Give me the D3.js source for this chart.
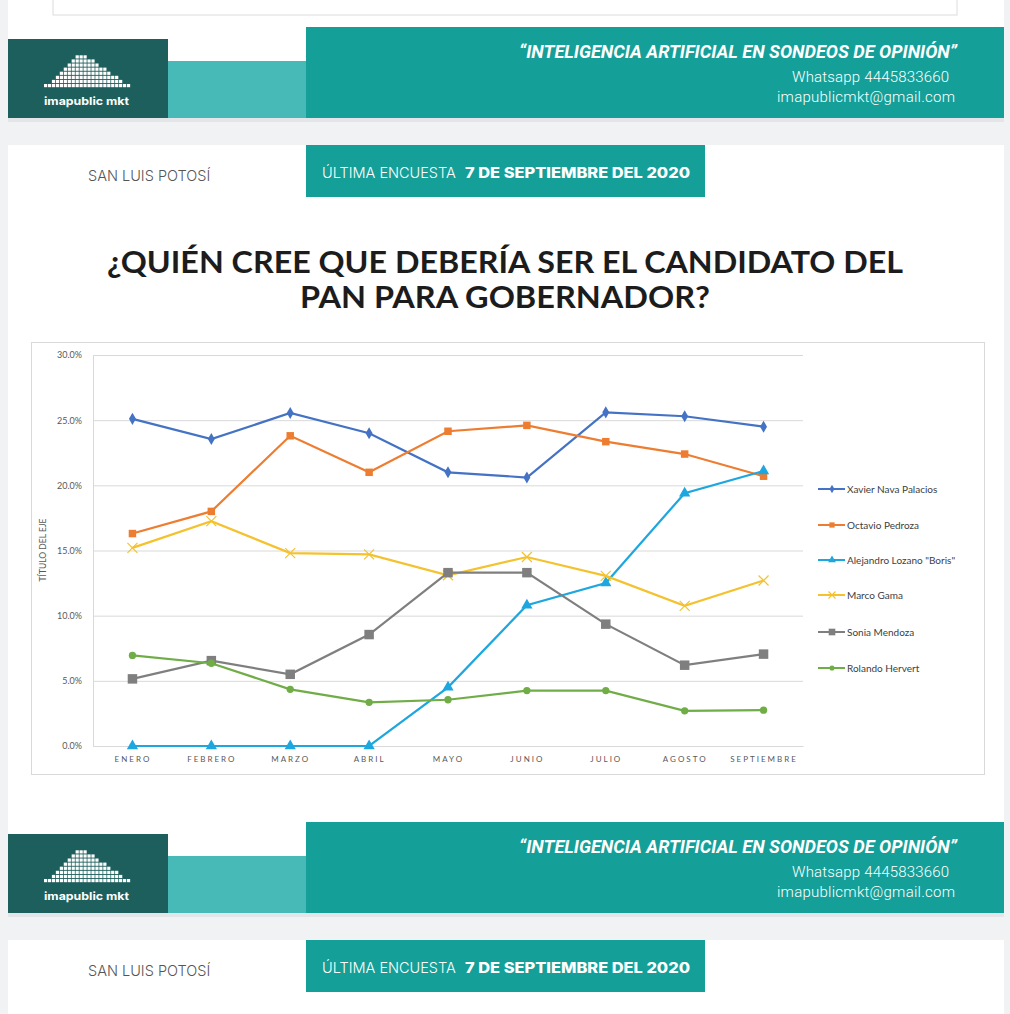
<!DOCTYPE html>
<html><head><meta charset="utf-8">
<script src="https://cdn.jsdelivr.net/npm/d3@7/dist/d3.min.js"></script>
<style>body{margin:0;background:#f1f2f4;} svg{display:block;}</style>
</head><body>
<svg id="c" width="1010" height="1014"></svg>
<script>
const months = ["ENERO","FEBRERO","MARZO","ABRIL","MAYO","JUNIO","JULIO","AGOSTO","SEPTIEMBRE"];
const yTicks = [0,5,10,15,20,25,30];
const xavier  = [25.1,23.55,25.55,24.0,21.0,20.6,25.6,25.3,24.5];
const octavio = [16.3,18.0,23.8,21.0,24.15,24.6,23.35,22.4,20.7];
const boris   = [0,0,0,0,4.5,10.8,12.5,19.4,21.1];
const marco   = [15.2,17.25,14.8,14.7,13.1,14.5,13.05,10.75,12.7];
const sonia   = [5.15,6.55,5.5,8.55,13.3,13.3,9.35,6.2,7.05];
const rolando = [6.95,6.35,4.35,3.35,3.55,4.25,4.25,2.7,2.75];
const seriesNames = ["Xavier Nava Palacios","Octavio Pedroza","Alejandro Lozano \"Boris\"","Marco Gama","Sonia Mendoza","Rolando Hervert"];
const logoCols = [1,1,2,3,4,5,6,7,8,8,8,7,7,6,5,5,4,3,3,2,1,1];

const series = [
  {name:seriesNames[0], values:xavier,  color:"#4472c4", sym:d3.symbolDiamond, size:42},
  {name:seriesNames[1], values:octavio, color:"#ed7d31", sym:d3.symbolSquare,  size:56},
  {name:seriesNames[2], values:boris,   color:"#1ea6df", sym:d3.symbolTriangle,size:55},
  {name:seriesNames[3], values:marco,   color:"#f4c22e", sym:"x",              size:5},
  {name:seriesNames[4], values:sonia,   color:"#7f7f7f", sym:d3.symbolSquare,  size:90},
  {name:seriesNames[5], values:rolando, color:"#70ad47", sym:d3.symbolCircle,  size:42}
];

const svg = d3.select("#c");
svg.append("rect").attr("x",8).attr("y",0).attr("width",996).attr("height",118).attr("fill","#fff");
svg.append("rect").attr("x",53).attr("y",-2).attr("width",904).attr("height",17).attr("fill","#fff").attr("stroke","#dcdcdc");
svg.append("rect").attr("x",8).attr("y",145).attr("width",996).attr("height",768).attr("fill","#fff");
svg.append("rect").attr("x",8).attr("y",940).attr("width",996).attr("height",80).attr("fill","#fff");

function banner(y0){
  const g = svg.append("g");
  g.append("rect").attr("x",8).attr("y",y0+91).attr("width",996).attr("height",4).attr("fill","#e3e5e8");
  g.append("rect").attr("x",306).attr("y",y0).attr("width",698).attr("height",91).attr("fill","#14a099");
  g.append("rect").attr("x",168).attr("y",y0+34).attr("width",138).attr("height",57).attr("fill","#47b9b6");
  g.append("rect").attr("x",8).attr("y",y0+12).attr("width",160).attr("height",79).attr("fill","#1d5f5c");
  logoCols.forEach((h,i)=>{
    for(let r=0;r<h;r++){
      g.append("rect").attr("x",44+i*3.95).attr("y",y0+57-r*4.1).attr("width",3.2).attr("height",3.2).attr("fill","#fff");
    }
  });
  g.append("text").attr("x",44).attr("y",y0+78).attr("fill","#fff")
   .attr("font-family","Inter, 'Open Sans', sans-serif").attr("font-weight",700).attr("font-size",11)
   .attr("textLength",85).attr("lengthAdjust","spacingAndGlyphs").text("imapublic mkt");
  g.append("text").attr("x",957).attr("y",y0+31).attr("text-anchor","end").attr("fill","#fff")
   .attr("font-family","Roboto, sans-serif").attr("font-weight",700).attr("font-style","italic").attr("font-size",19)
   .attr("textLength",438).attr("lengthAdjust","spacingAndGlyphs").text("“INTELIGENCIA ARTIFICIAL EN SONDEOS DE OPINIÓN”");
  g.append("text").attr("x",949).attr("y",y0+55).attr("text-anchor","end").attr("fill","#fff")
   .attr("font-family","Roboto, sans-serif").attr("font-weight",300).attr("font-size",15)
   .attr("textLength",157).attr("lengthAdjust","spacing").text("Whatsapp 4445833660");
  g.append("text").attr("x",955).attr("y",y0+75).attr("text-anchor","end").attr("fill","#fff")
   .attr("font-family","Roboto, sans-serif").attr("font-weight",300).attr("font-size",15)
   .attr("textLength",178).attr("lengthAdjust","spacing").text("imapublicmkt@gmail.com");
}
banner(27);
banner(822);

function header(y0){
  svg.append("text").attr("x",88).attr("y",y0+36).attr("fill","#555")
   .attr("font-family","Inter, Roboto, sans-serif").attr("font-weight",300).attr("font-size",14.5).text("SAN LUIS POTOSÍ");
  svg.append("rect").attr("x",306).attr("y",y0).attr("width",399).attr("height",52).attr("fill","#14a099");
  const t = svg.append("text").attr("y",y0+33).attr("fill","#fff")
   .attr("font-family","Inter, Roboto, sans-serif").attr("font-size",14.5);
  t.append("tspan").attr("x",322).attr("font-weight",300).text("ÚLTIMA ENCUESTA");
  t.append("tspan").attr("x",465).attr("font-weight",800).attr("textLength",225).attr("lengthAdjust","spacingAndGlyphs").text("7 DE SEPTIEMBRE DEL 2020");
}
header(145);
header(940);

const titleLines = ["¿QUIÉN CREE QUE DEBERÍA SER EL CANDIDATO DEL","PAN PARA GOBERNADOR?"];
const titleW = [796, 410];
titleLines.forEach((l,i)=>{
  svg.append("text").attr("x",505).attr("y",273+i*35).attr("text-anchor","middle").attr("fill","#1c1c1c")
   .attr("font-family","Lato, sans-serif").attr("font-weight",700).attr("font-size",31)
   .attr("textLength",titleW[i]).attr("lengthAdjust","spacingAndGlyphs").text(l);
});

svg.append("rect").attr("x",31.5).attr("y",342.5).attr("width",953).attr("height",432).attr("fill","#fff").attr("stroke","#d9d9d9");

const x = d3.scalePoint().domain(months).range([93,803]).padding(0.5);
const y = d3.scaleLinear().domain([0,30]).range([746,355]);
const font = "Lato, 'Open Sans', sans-serif";

const yAxis = svg.append("g").attr("transform","translate(93,0)")
  .call(d3.axisLeft(y).tickValues(yTicks).tickSize(-710).tickFormat(d=>d.toFixed(1)+"%"));
yAxis.select(".domain").attr("stroke","#d9d9d9");
yAxis.selectAll(".tick line").attr("stroke","#d9d9d9");
yAxis.selectAll(".tick text").attr("x",-11).attr("fill","#595959").attr("font-family",font).attr("font-size",9);

const xAxis = svg.append("g").attr("transform","translate(0,746)")
  .call(d3.axisBottom(x).tickSize(0).tickPadding(10));
xAxis.select(".domain").attr("stroke","#d9d9d9");
xAxis.selectAll(".tick text").attr("fill","#595959").attr("font-family",font).attr("font-size",8)
  .attr("letter-spacing","2px");

svg.append("text").attr("transform","translate(46,550) rotate(-90)").attr("text-anchor","middle")
  .attr("fill","#595959").attr("font-family",font).attr("font-size",8.5).text("TÍTULO DEL EJE");

const line = d3.line().x((d,i)=>x(months[i])).y(d=>y(d));
function marker(g, s, cx, cy, scale){
  if(s.sym==="x"){
    const r = s.size*scale;
    g.append("path").attr("d",`M${cx-r},${cy-r}L${cx+r},${cy+r}M${cx-r},${cy+r}L${cx+r},${cy-r}`)
     .attr("stroke",s.color).attr("stroke-width",1.2).attr("fill","none");
  } else {
    g.append("path").attr("d",d3.symbol(s.sym, s.size*scale*scale)())
     .attr("transform",`translate(${cx},${cy})`).attr("fill",s.color);
  }
}
series.forEach(s=>{
  const g = svg.append("g");
  g.append("path").attr("d",line(s.values)).attr("fill","none").attr("stroke",s.color).attr("stroke-width",2.2);
  s.values.forEach((v,i)=>marker(g,s,x(months[i]),y(v),1));
});

const legY = [489,525,560,595,632,668];
series.forEach((s,i)=>{
  const g = svg.append("g");
  g.append("line").attr("x1",818).attr("x2",845).attr("y1",legY[i]).attr("y2",legY[i]).attr("stroke",s.color).attr("stroke-width",2);
  marker(g,s,832,legY[i],0.7);
  g.append("text").attr("x",847).attr("y",legY[i]+3.5).attr("fill","#404040").attr("font-family",font).attr("font-size",10).text(s.name);
});
</script>
</body></html>
